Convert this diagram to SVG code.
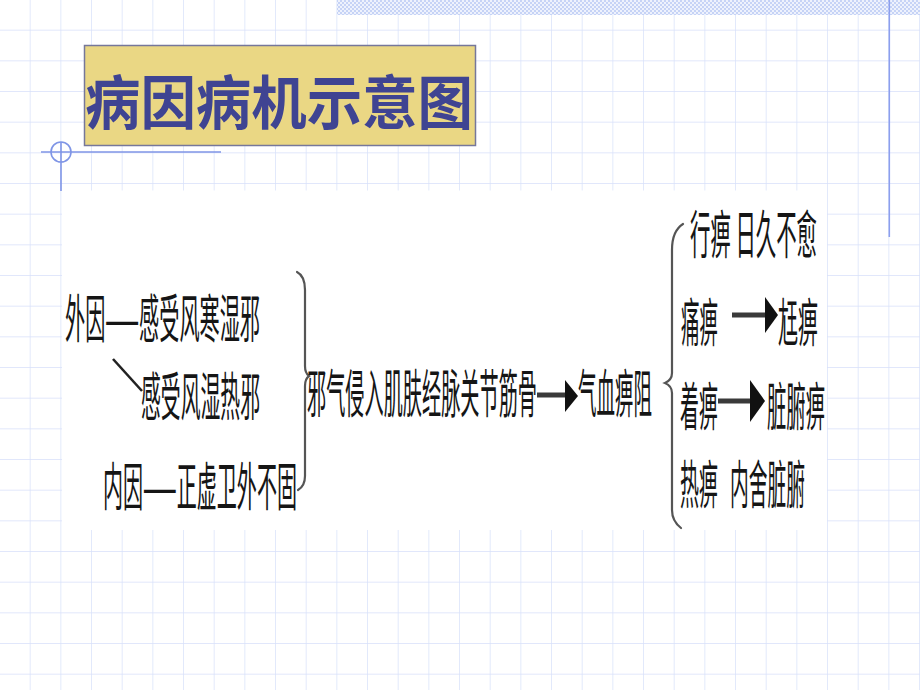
<svg xmlns="http://www.w3.org/2000/svg" width="920" height="690" viewBox="0 0 920 690">
<defs>
<pattern id="chk" width="4" height="4" patternUnits="userSpaceOnUse">
<rect width="4" height="4" fill="#EEF2FD"/>
<rect width="2" height="2" fill="#C6D3F6"/>
<rect x="2" y="2" width="2" height="2" fill="#C6D3F6"/>
</pattern>
<pattern id="grid" width="30.667" height="30.667" patternUnits="userSpaceOnUse">
<path d="M30.667,0 V30.667 M0,30.667 H30.667" fill="none" stroke="#D7E0FA" stroke-width="1.4"/>
</pattern>
</defs>
<style>
.t{font-family:"Noto Sans CJK SC","Noto Sans CJK JP",sans-serif;font-size:52px;fill:#151515}
.title{font-family:"Noto Sans CJK SC","Noto Sans CJK JP",sans-serif;font-size:58px;font-weight:bold;fill:#3F4492}
.br{fill:none;stroke:#555;stroke-width:2.2;stroke-linecap:round}
.ln{stroke:#3a3a3a;stroke-width:5}
.hd{fill:#111}
.deco{fill:none;stroke:#7F95E6;stroke-width:1.6}
</style>
<rect width="920" height="690" fill="#FFFFFF"/>
<rect width="920" height="690" fill="url(#grid)"/>
<rect x="337" y="0" width="583" height="15" fill="url(#chk)"/>
<line x1="889.3" y1="0" x2="889.3" y2="237" stroke="#8C9FEE" stroke-width="1.6"/>
<g id="decoration">
<circle class="deco" cx="61" cy="152" r="10"/>
<line class="deco" x1="41" y1="152" x2="221" y2="152"/>
<line class="deco" x1="61" y1="142" x2="61" y2="191"/>
</g>
<g id="title">
<rect x="84.5" y="45.5" width="391" height="100" fill="#EAD784" stroke="#76779A" stroke-width="1.5"/>
<text class="title" x="85" y="124" textLength="388" lengthAdjust="spacingAndGlyphs">病因病机示意图</text>
</g>
<rect id="panel" x="62" y="190.5" width="765" height="339.5" fill="#FFFFFF"/>
<g id="connectors">
<line x1="113" y1="359" x2="142" y2="391" stroke="#222" stroke-width="2.6"/>
<path class="br" d="M297,272 Q305,276 305,290 L305,366 Q305,373 309,376 Q305,379 305,386 L305,476 Q305,486 298,490"/>
<line class="ln" x1="537" y1="395" x2="567" y2="395"/>
<polygon class="hd" points="565,380 578,396 565,412"/>
<path class="br" d="M683,224 Q672,231 672,250 L672,373 Q672,380 665,383 Q672,386 672,393 L672,510 Q672,521 681,528"/>
<line class="ln" x1="732" y1="315" x2="767" y2="315" stroke="#555"/>
<polygon class="hd" points="765,297 778,315 765,333"/>
<line class="ln" x1="718" y1="401" x2="752" y2="401" stroke="#555"/>
<polygon class="hd" points="750,380 765,401 750,422"/>
</g>
<g id="cause-external-1"><text class="t" x="65" y="338" textLength="195" lengthAdjust="spacingAndGlyphs">外因——感受风寒湿邪</text></g>
<g id="cause-external-2"><text class="t" x="141" y="416" textLength="119" lengthAdjust="spacingAndGlyphs">感受风湿热邪</text></g>
<g id="cause-internal"><text class="t" x="103" y="506" textLength="194" lengthAdjust="spacingAndGlyphs">内因——正虚卫外不固</text></g>
<g id="invasion"><text class="t" x="307" y="413" textLength="230" lengthAdjust="spacingAndGlyphs">邪气侵入肌肤经脉关节筋骨</text></g>
<g id="blockage"><text class="t" x="578" y="413" textLength="74" lengthAdjust="spacingAndGlyphs">气血痹阻</text></g>
<g id="xingbi"><text class="t" x="690" y="254" textLength="127" lengthAdjust="spacingAndGlyphs">行痹 日久不愈</text></g>
<g id="tongbi"><text class="t" x="681" y="342" textLength="37" lengthAdjust="spacingAndGlyphs">痛痹</text></g>
<g id="wangbi"><text class="t" x="778" y="342" textLength="40" lengthAdjust="spacingAndGlyphs">尪痹</text></g>
<g id="zhuobi"><text class="t" x="680" y="426" textLength="38" lengthAdjust="spacingAndGlyphs">着痹</text></g>
<g id="zangfubi"><text class="t" x="767" y="426" textLength="58" lengthAdjust="spacingAndGlyphs">脏腑痹</text></g>
<g id="rebi"><text class="t" x="680" y="504" textLength="38" lengthAdjust="spacingAndGlyphs">热痹</text></g>
<g id="neishe"><text class="t" x="730" y="504" textLength="75" lengthAdjust="spacingAndGlyphs">内舍脏腑</text></g>
</svg>
